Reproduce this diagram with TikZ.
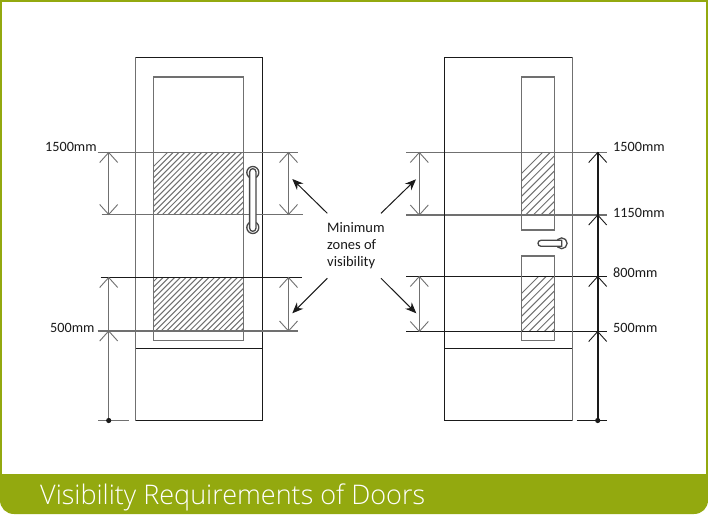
\documentclass[tikz,border=0pt]{standalone}
\usepackage{fontspec}
\setmainfont{Carlito}
\newfontfamily\titlefont{Open Sans Light}
\usetikzlibrary{arrows.meta,calc}
\definecolor{olive}{HTML}{93A90F}
\definecolor{greyline}{HTML}{707070}
\definecolor{inkline}{HTML}{1A1A1A}
\tikzset{
  x=1pt,y=-1pt,
  graybar/.style={draw=greyline,line width=1.4pt},
  blackbar/.style={draw=inkline,line width=1pt},
  dimgray/.style={draw=greyline,line width=1.3pt},
  dimblack/.style={draw=inkline,line width=1pt},
  barb/.style={line width=0.9pt},
  dimarrow/.style={draw=greyline,line width=1.1pt},
  thickdim/.style={draw=inkline,line width=1.8pt},
  pointer/.style={draw=inkline,line width=1pt,-{Stealth[length=11pt,width=9pt]}},
  handle/.style={draw=inkline!80,line width=1.3pt,fill=white},
  dimlabel/.style={inner sep=0pt,anchor=base west,font=\fontsize{14.2}{16}\selectfont,text=inkline},
  zonelabel/.style={inner sep=0pt,anchor=base west,font=\fontsize{14.5}{16}\selectfont,text=inkline},
  hatchline/.style={draw=greyline,line width=1pt},
}
\newcommand{\upbarb}[2]{\draw[#2,barb] ($(#1)+(-9,10)$) -- (#1) -- ($(#1)+(9,10)$);}
\newcommand{\downbarb}[2]{\draw[#2,barb] ($(#1)+(-9,-10)$) -- (#1) -- ($(#1)+(9,-10)$);}
\begin{document}
\begin{tikzpicture}
\useasboundingbox (0,0) rectangle (708,529);
% frame and title band
\fill[white] (0,0) rectangle (708,529);
\fill[olive] (0,0) -- (708,0) -- (708,500) .. controls (708,508) and (702,514) .. (694,514) -- (14,514) .. controls (6,514) and (0,508) .. (0,500) -- cycle;
\fill[white] (2,2) rectangle (706,474);
\node[inner sep=0pt,anchor=base west,text=white,font=\titlefont\fontsize{27}{32}\selectfont] (title) at (40,504) {Visibility Requirements of Doors};

% hatching
\begin{scope}
\clip (153.7,152.7) rectangle (243.7,214.5);
\foreach \i in {0,...,32} \draw[hatchline] (90+5.7*\i,230) -- (90+5.7*\i+90,140);
\end{scope}
\begin{scope}
\clip (153.7,277.5) rectangle (243.7,331);
\foreach \i in {0,...,32} \draw[hatchline] (90+5.7*\i,345) -- (90+5.7*\i+90,255);
\end{scope}
\begin{scope}
\clip (521.7,152.5) rectangle (554.3,215);
\foreach \i in {0,...,16} \draw[hatchline] (470+7.6*\i,225) -- (470+7.6*\i+90,135);
\end{scope}
\begin{scope}
\clip (521.7,276.5) rectangle (554.3,331.5);
\foreach \i in {0,...,16} \draw[hatchline] (470+7.6*\i,345) -- (470+7.6*\i+90,255);
\end{scope}

% left door
\draw[graybar] (135.7,420.5) -- (135.7,57.5);
\draw[blackbar] (135.7,57.5) -- (262.5,57.5) -- (262.5,420.5) -- (135.7,420.5);
\draw[blackbar] (135.7,348.5) -- (262.5,348.5);
\draw[graybar] (153.7,77) rectangle (243.7,340.5);

% named ends of the level lines
\coordinate (L1a) at (97.7,152.5);  \coordinate (L1b) at (298,152.5);
\coordinate (L2a) at (101.7,214.5); \coordinate (L2b) at (302.7,214.5);
\coordinate (L3a) at (100.7,277.5); \coordinate (L3b) at (301.7,277.5);
\coordinate (L4a) at (97.7,331);    \coordinate (L4b) at (298,331);
\coordinate (R1a) at (406,152.5);   \coordinate (R1b) at (607,152.5);
\coordinate (R2a) at (406,215);     \coordinate (R2b) at (607,215);
\coordinate (R3a) at (406,276.5);   \coordinate (R3b) at (607,276.5);
\coordinate (R4a) at (406,331.5);   \coordinate (R4b) at (607,331.5);
\draw[dimgray] (L1a) -- (L1b);
\draw[dimgray] (L2a) -- (L2b);
\draw[dimblack] (L3a) -- (L3b);
\draw[dimgray] (L4a) -- (L4b);
\draw[dimgray] (R1a) -- (R1b);
\draw[dimgray] (R2a) -- (R2b);
\draw[dimblack] (R3a) -- (R3b);
\draw[dimblack] (R4a) -- (R4b);

% left door handle (over the level line)
\draw[handle] (252.8,172.5) circle[radius=6];
\draw[handle] (252.8,227.5) circle[radius=6];
\draw[handle] (249.6,172) .. controls (249.6,167.6) and (256,167.6) .. (256,172) -- (256,228) .. controls (256,232.4) and (249.6,232.4) .. (249.6,228) -- cycle;

% right door
\draw[blackbar] (572.3,57.5) -- (444.5,57.5) -- (444.5,420.5) -- (572.3,420.5);
\draw[graybar] (572.3,57.5) -- (572.3,420.5);
\draw[blackbar] (444.5,348.5) -- (572.3,348.5);
\draw[graybar] (521.7,77) rectangle (554.3,230);
\draw[graybar] (521.7,256) rectangle (554.3,340.3);
\draw[handle] (561.7,243.3) circle[radius=5.4];
\draw[handle] (541,240.3) -- (561.7,240.3) -- (561.7,246.3) -- (541,246.3) .. controls (537,246.3) and (537,240.3) .. (541,240.3) -- cycle;

% dimension arrows, left door
\coordinate (a1) at (108.7,152.5); \coordinate (a2) at (108.7,214.5);
\coordinate (a3) at (108.7,277.5); \coordinate (a4) at (108.7,331);
\coordinate (a5) at (108.7,420.5);
\coordinate (b1) at (288.5,152.5); \coordinate (b2) at (288.5,214.5);
\coordinate (b3) at (288.5,277.5); \coordinate (b4) at (288.5,331);
\draw[dimarrow] (a1) -- (a2); \upbarb{a1}{greyline} \downbarb{a2}{greyline}
\draw[dimarrow] (b1) -- (b2); \upbarb{b1}{greyline} \downbarb{b2}{greyline}
\draw[dimarrow] (b3) -- (b4); \upbarb{b3}{greyline} \downbarb{b4}{greyline}
\draw[dimarrow] (a3) -- (a5); \upbarb{a3}{greyline} \upbarb{a4}{greyline}
\coordinate (t1) at (98,420.5); \coordinate (t2) at (129,420.5);
\draw[dimgray] (t1) -- (t2);
\fill[inkline] (a5) circle[radius=2.6];

% dimension arrows, right door
\coordinate (c1) at (419.3,152.5); \coordinate (c2) at (419.3,215);
\coordinate (c3) at (419.3,276.5); \coordinate (c4) at (419.3,331.5);
\coordinate (d1) at (597.7,152.5); \coordinate (d2) at (597.7,215);
\coordinate (d3) at (597.7,276.5); \coordinate (d4) at (597.7,331.5);
\coordinate (d5) at (597.7,420.5);
\draw[dimarrow] (c1) -- (c2); \upbarb{c1}{greyline} \downbarb{c2}{greyline}
\draw[dimarrow] (c3) -- (c4); \upbarb{c3}{greyline} \downbarb{c4}{greyline}
\draw[thickdim] (d1) -- (d5);
\foreach \p in {d1,d2,d3,d4} {\upbarb{\p}{inkline}}
\coordinate (t3) at (576.7,420.5); \coordinate (t4) at (607.3,420.5);
\draw[inkline,line width=1.8pt] (t3) -- (t4);
\fill[inkline] (d5) circle[radius=2.6];

% pointers
\coordinate (p1s) at (327.3,213.3); \coordinate (p1e) at (292.3,179);
\coordinate (p2s) at (381,213.3);   \coordinate (p2e) at (416,179.3);
\coordinate (p3s) at (327.3,278.3); \coordinate (p3e) at (292.3,313.3);
\coordinate (p4s) at (381,278.3);   \coordinate (p4e) at (416.3,313.3);
\draw[pointer] (p1s) -- (p1e);
\draw[pointer] (p2s) -- (p2e);
\draw[pointer] (p3s) -- (p3e);
\draw[pointer] (p4s) -- (p4e);

% labels
\node[zonelabel] (zone1) at (327,232.7) {Minimum};
\node[zonelabel] (zone2) at (327,249.3) {zones of};
\node[zonelabel] (zone3) at (327,266) {visibility};
\node[dimlabel] (lab1) at (45,152) {1500mm};
\node[dimlabel] (lab2) at (50,332) {500mm};
\node[dimlabel] (lab3) at (613,152) {1500mm};
\node[dimlabel] (lab4) at (613,217) {1150mm};
\node[dimlabel] (lab5) at (613,277) {800mm};
\node[dimlabel] (lab6) at (613,332.5) {500mm};
\end{tikzpicture}
\end{document}
